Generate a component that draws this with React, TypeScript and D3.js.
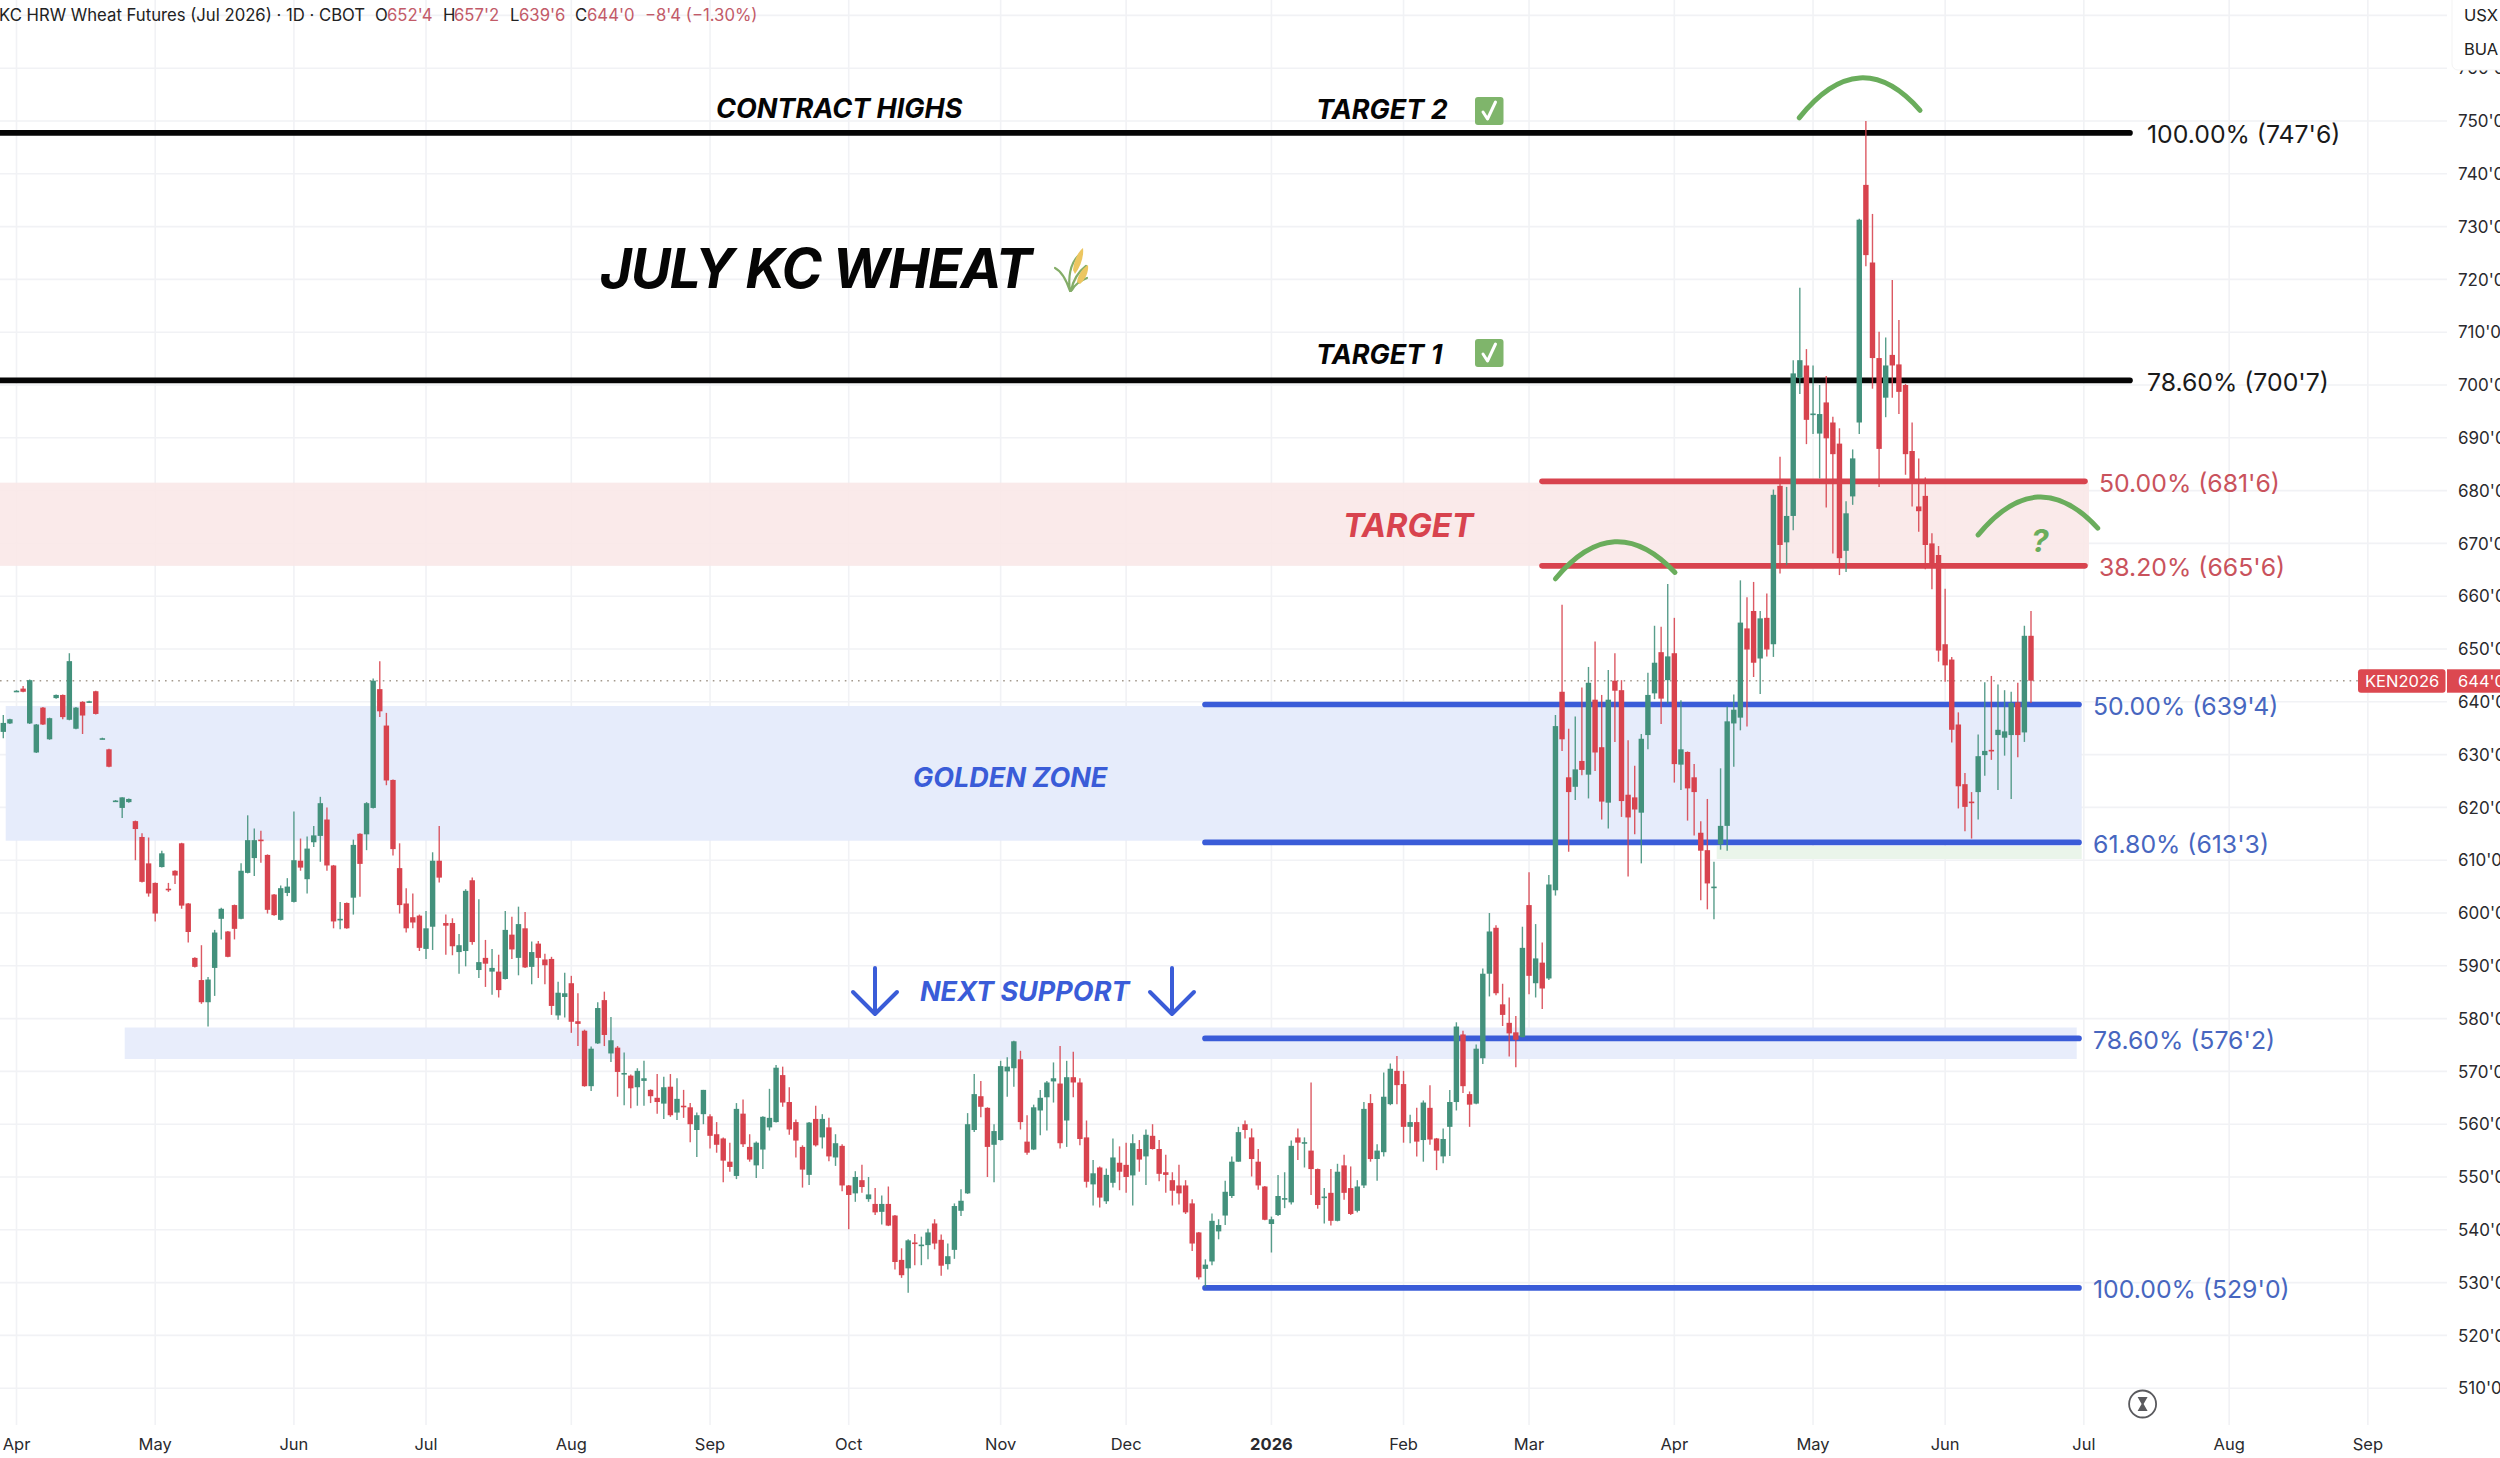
import * as React from 'react'
import * as d3 from 'd3'

type Bar = number[] // open, high, low, close

const lateMar25: Bar[] = [
  [634.3,637.5,633.1,636],[635.9,636.8,635.8,636.7],
]
const apr25: Bar[] = [
  [642,642.2,641.9,642.1],[642.5,643,641.8,641.9],[635.9,644.2,635.8,644.1],[630.4,635.8,630.3,635.7],
  [638.9,639,635.6,635.7],[632.9,637,632.8,636.9],[640.7,641.4,640.6,641.3],[641.3,641.4,636.7,637.1],
  [636.6,649.2,636.5,647.7],[634.9,639,634.8,638.9],[640,640.1,633.9,637.4],[639.9,640.2,639.8,640.1],
  [642,642.1,637.6,637.7],[633,633.2,632.9,633.1],[631,631.1,627.6,627.7],[621.2,621.4,621.1,621.3],
  [619.9,621.9,618,621.9],[621,621.7,620.9,621.6],[617.4,617.5,610,615.9],[614.4,615.1,605.8,605.9],
  [609.4,614.3,603.1,603.7],
]
const may25: Bar[] = [
  [605.7,605.8,598.4,599.9],[608.7,611.8,608.6,611.3],[604.6,605.7,604,604.4],[608,608.1,605.5,607.1],
  [613.2,613.3,600.8,601.4],[601.8,601.9,594.4,596.4],[591.5,591.6,589.7,589.8],[587.3,593.9,582.8,583.1],
  [583.1,587.9,578.5,587.4],[589.6,596.8,584.3,596.3],[598.9,601,595,600.8],[596.5,596.6,591.6,591.7],
  [601.5,601.6,595,597],[598.9,609.4,598.8,608],[607.6,618.5,607.5,613.8],[610.4,616,607,613.8],
  [613.9,615.6,609.5,613.7],[611,611.1,599.9,600.6],[603.5,603.6,599.5,599.6],[598.7,605.2,598.6,604.7],
  [603.8,606.6,603.2,605],
]
const jun25: Bar[] = [
  [602.1,619.2,602,610],[609.9,614.1,608,608.6],[606.4,614.5,603.7,612.2],[613.4,616.5,612.5,614.7],
  [614.6,622,609.7,620.8],[617.7,620,608,609],[609,609.1,597.1,598.4],[598.8,602.1,596.9,598.9],
  [601.9,602,597,597.1],[602.9,613.9,599.7,612.9],[615,615.1,603.1,609.3],[614.9,621,611.9,620.8],
  [619.9,644.4,619.8,644],[642.4,647.7,637.1,638.2],[635.5,637.9,624.2,625.1],[625.2,625.3,610.9,612.1],
  [608.5,613.2,599.9,601.5],[601.8,604.7,596.3,597.1],[599.2,603.7,597.1,598.2],[599.5,599.7,592.8,593.4],
]
const jul25: Bar[] = [
  [593.2,600.4,591.3,597.1],[597.4,611.5,593,609.9],[609.9,616.5,605.8,606.7],[598.1,599.7,592.1,597.6],
  [598.1,599,592,593.7],[592.6,596,588.5,593.9],[592.8,604.5,589.9,604.2],[606.2,606.7,594,594.5],
  [589.2,602.6,587.7,590.7],[591.5,594.9,586,590.4],[588.9,593.2,584.5,589.6],[588.9,592.1,584,585.4],
  [587.5,600.4,587.4,596.8],[595.9,599.3,591.3,593.1],[591.5,601.2,588.2,597.9],[597.1,600.2,589.6,589.7],
  [589.8,594.6,586.5,592.6],[594.2,594.7,587.7,591.5],[591.2,592.3,586.5,590.1],[591.3,591.7,580.7,582.4],
  [580.6,587,579.8,584.9],[584.1,588.7,580.2,584.8],
]
const aug25: Bar[] = [
  [586.7,588.1,577.3,579.4],[579.5,584.8,574.8,579],[577.7,577.9,567.1,567.2],[567.2,574.7,566.3,574.3],
  [575.3,583.1,575.2,582],[583.5,585.1,574.8,576.9],[573.4,580.3,571.8,575.9],[574.5,574.8,565.2,569.9],
  [569.5,573.6,563.6,569.7],[569.2,569.4,563,566.8],[567,570.6,563.5,570.1],[568.2,572,563.5,568.7],
  [566.5,566.6,564,565.3],[565,569.5,562,564.2],[563.9,569,561,567],[567.1,569.5,561.4,561.7],
  [562.2,568.7,560.8,564.8],[563.5,566.5,561.2,563.4],[563.2,564,556.6,560],[558.9,562.2,553.8,561.7],
  [561.9,566.5,560,566.5],
]
const sep25: Bar[] = [
  [561.5,561.9,555.4,557.8],[558.1,560.4,554.6,556.1],[557.3,557.5,549,553.1],[552.9,556.5,551,551.9],
  [550.2,564,549.6,562.9],[562,564.7,555.7,556.2],[555.7,558.1,552.9,553.3],[552.2,556.7,549.8,556.5],
  [555.2,561.5,551.5,561.4],[559.4,566.7,558.8,561.2],[560.4,571.2,560.3,570.7],[569.3,570.9,563.3,564.1],
  [564.2,567,558,559],[560.4,560.9,553.7,556.9],[555.7,556,548,551.4],[550.4,560.4,548.5,560.3],
  [561,563.5,555.8,556],[557.5,561.9,555.4,561],[559.4,561.2,553,553.9],[553.7,558.1,552.1,556.4],
  [555.9,556.2,547.3,548.4],
]
const oct25: Bar[] = [
  [548.4,548.5,540.1,546.6],[546.9,551.1,545.3,550],[549.4,552.3,547,548.1],[545.8,550,545.3,546.7],
  [544.9,547.9,542.8,543.3],[543.4,546.5,541,544.9],[544.9,548.2,540.7,540.8],[542.7,542.8,532.5,533.9],
  [534.3,536.5,530.9,531.4],[532.7,538.2,528.1,538],[537.6,539.2,533.3,537.4],[537.1,538.7,533.3,537.2],
  [537.1,540.2,534.4,539.5],[541.2,542,536.3,537.4],[538.1,539.1,531.3,533.2],[533.5,537.4,532.5,535],
  [536.2,545,534.5,544.5],[543.6,547.7,542.6,545.5],[546.9,562.1,546.8,560],[558.9,569.5,558.5,565.7],
  [565.3,568.2,561.3,563.3],[563.1,563.2,550,555.7],[556.1,560,549,558.7],
]
const nov25: Bar[] = [
  [557,572,556.9,571],[570,572.7,565.2,570.9],[570.6,575.8,567.1,575.7],[572.3,573.9,559,560.4],
  [556.7,561.7,554.2,554.6],[555.2,563.7,555.1,563.2],[562.6,566.5,557.9,565],[565.1,568.2,558.8,567.9],
  [568.1,571.7,564.1,568.7],[567.7,574.8,555.4,556.4],[560.7,572,555.7,568.9],[568.9,573.7,565.1,567.9],
  [567.9,568.7,556,557.2],[557.5,560.7,548,549.1],[548.6,553.2,544.6,550.7],[551.8,552,544.2,546.1],
  [545.4,551.6,544.9,550.4],[548.9,557.3,548,553.7],[552.7,555.8,547.5,551],
]
const dec25: Bar[] = [
  [552.3,556.5,547,550],[550.3,558.1,544.6,556.4],[555.3,557,551,553.3],[553.9,559,548.5,558],
  [557.8,560,555.2,555.3],[555.3,557,549.2,550.6],[550.9,554.2,547,550.4],[549.4,550.9,544.6,547.4],
  [548.4,552.3,544.8,546.9],[548.4,549.4,543,543.3],[545,545.8,536,537.4],[539.5,539.6,530.6,531],
  [532.6,534.4,529.2,533.4],[534,543.1,533.3,541.7],[539.7,542,538.2,540.9],[542.7,549.3,540.9,547.2],
  [546.4,553.9,546,552.9],[552.9,559.5,552.9,558.5],[560,560.7,557.3,558.9],[557.5,559.2,550.1,553.4],
  [552.9,555.3,547.6,548.4],[548.2,548.3,541.8,541.9],
]
const jan26: Bar[] = [
  [541.1,542.5,535.7,542],[542.8,550.4,542.6,546.4],[545.9,550.9,544.1,546],[545.2,556.9,544.8,555.9],
  [557.5,559.2,553.2,556.5],[556.5,557.5,551.8,556.6],[555,567.9,546.6,551.5],[551.5,551.6,544,544.7],
  [546.2,547.9,541.2,546.3],[547,551.5,540.8,541.7],[541.7,552.5,541.6,551],[552.2,554.2,545.7,547],
  [547.9,552,542.8,543],[543.6,549.4,543.3,548.2],[548.4,564.2,547.9,562.9],[564,565.7,552.9,553.4],
  [553.4,556.2,549.3,555],[554.7,569.8,553.9,565.2],[563.8,571.5,563.6,570.5],[570.1,572.9,563.8,567.4],
]
const feb26: Bar[] = [
  [567.6,570.1,556.5,559.5],[559.5,561.8,556.4,560.4],[560.4,563.1,553.9,556.7],[557,564.5,552.9,564.1],
  [563.1,567.4,556.1,557.1],[557.3,557.4,551.3,555],[553.9,559.2,552.6,557.2],[559.5,566.5,554,564.2],
  [564.2,579.3,562.6,578.5],[577,577.7,565.9,567.2],[565.7,566.2,559.5,563.7],[563.9,575.1,563.8,574.3],
  [572.5,589.5,571.4,588.5],[588.5,600,584.2,596.5],[597.2,597.7,584.4,584.8],[582.7,586.6,578.6,580.7],
  [579.2,584,572.8,577.2],[577.4,580.5,570.8,576],[576.5,597.4,576.4,593.4],
]
const mar26: Bar[] = [
  [601.5,607.7,584.6,588.1],[586.7,597.9,584,591.4],[590.6,594.4,581.8,585.7],[587.6,607.2,587.3,605.4],
  [604.3,637.5,603.3,635.4],[641.9,658.4,630.7,632.9],[625.7,634.9,611.6,622.9],[623.9,637.2,621.4,627.2],
  [628.8,642.7,626.1,627.1],[626.2,646.6,621.7,643.6],[640.4,651.4,626.9,630.4],[631.4,641.3,617.7,621.1],
  [620.9,646,616,640.4],[644,649.2,632.4,642.1],[642.2,644.1,618.2,621.2],[622.4,632.7,606.9,618.1],
  [621.9,627.9,614.9,619.6],[619,633.9,609.4,633],[633.7,645.5,631,641.3],[641.6,654.4,640.5,647.4],
  [649.4,654.2,635.8,640.6],[644.1,662.3,639.7,648.6],
]
const apr26: Bar[] = [
  [649.2,655.9,624.7,628.2],[628.1,640.3,623.3,631],[630.5,630.6,617.5,623.6],[625.7,628.2,614.7,622.9],
  [615.2,617.4,602.4,611.8],[611.9,621.6,600.7,605.6],[604.9,609.7,598.8,605],[613,627.4,612,616.5],
  [616.5,639.1,611.8,636.3],[635.9,641.4,627.7,638.5],[637,663,634.6,655],[653.9,659.8,635.3,649.9],
  [657.2,662.7,644.7,647.4],[648.2,657.2,641.5,655.8],[655.9,660.5,648.6,649.9],[650.9,680.2,648.5,679.2],
  [680.9,686.4,664.3,669.7],[670.2,680.7,665.9,675.2],[675.2,704.7,672.5,702.2],[701.3,718.4,698.3,704.7],
  [703.7,706.8,688.8,693.4],
]
const may26: Bar[] = [
  [694.4,703.7,690.7,694.6],[690.8,700,682.3,694.5],[696.7,701.7,676.8,689.9],[692.9,694,668.1,686.9],
  [688.9,691.8,664,667.2],[668.6,678,664.6,675.7],[678.9,687.8,677.3,686.1],[692.9,731.5,690.7,731.3],
  [737.9,750,722.5,724.6],[723.2,732.4,699.3,705.1],[705.1,710.1,680.7,687.9],[697.6,709,693.9,703.7],
  [705.7,719.9,697.6,703.7],[703.9,712.3,694.5,698.7],[700,700.2,683,686.9],[687.5,692.9,677,682],
  [677,686.1,672.2,676.1],[679,682.5,665.1,669.7],[670,671.9,661.3,665.9],[667.8,669.5,647.6,649.7],
]
const jun26: Bar[] = [
  [650.9,661.4,643.8,646.9],[648,648.5,632.3,634.7],[635.7,638,619.8,624],[624.4,626.5,615.5,620.1],
  [621.1,622.9,614.1,621],[622.9,633.8,617.7,629.7],[629.9,643.7,626,630.7],[630.9,644.9,629,630.8],
  [633.7,643.3,623.3,634.7],[633.2,642.2,629.8,634.4],[633.7,641.9,621.6,639.8],[639.9,643.6,629.5,633.7],
  [634.2,654.4,632.4,652.5],[652.5,657.2,639.75,644],
]

const bars: Bar[] = [
  ...lateMar25, ...apr25, ...may25, ...jun25, ...jul25, ...aug25, ...sep25, ...oct25,
  ...nov25, ...dec25, ...jan26, ...feb26, ...mar26, ...apr26, ...may26, ...jun26,
]

// axis ticks: bar index of the first session of each month (future ones run on past the last bar)
const monthLabels = ['Apr','May','Jun','Jul','Aug','Sep','Oct','Nov','Dec','2026','Feb','Mar','Apr','May','Jun','Jul','Aug','Sep']
const monthBars = [2,23,44,64,86,107,128,151,170,192,212,231,253,274,294,315,337,358]
const priceTicks = d3.range(510, 771, 10)

const lastClose = 644
const RED = '#d8434e'
const GREEN = '#43917c'
const BLUE = '#3a5cd8'
const BLACK = '#050505'
const ARC = '#6aad5c'
const FONT = 'Inter, "Noto Sans", sans-serif'

// fib levels: price, label
const fibBlack = [{ p: 747.75, label: "100.00% (747'6)" }, { p: 700.875, label: "78.60% (700'7)" }]
const fibRed = [{ p: 681.75, label: "50.00% (681'6)" }, { p: 665.75, label: "38.20% (665'6)" }]
const fibBlue = [
  { p: 639.5, label: "50.00% (639'4)" },
  { p: 613.375, label: "61.80% (613'3)" },
  { p: 576.25, label: "78.60% (576'2)" },
  { p: 529, label: "100.00% (529'0)" },
]

// hand drawn arcs as [bar, price]: start, control, end
const arcs = [
  [[235, 663.3], [243.9, 676.7], [253.1, 664.5]],
  [[271.9, 750.6], [281.1, 765], [290.2, 752]],
  [[299, 671.6], [308, 685.3], [317.1, 672.9]],
]

const x = d3.scaleLinear().domain([0, 307]).range([3.3, 2031])
const y = d3.scaleLinear().domain([750, 510]).range([121, 1388.2])

function Check({ top }: { top: number }) {
  return (
    <g transform={`translate(1475,${top})`}>
      <rect width={28.5} height={28} rx={3} fill="#7fb56b" />
      <path d="M8 15 L12.5 22 L20.5 5" fill="none" stroke="#fff" strokeWidth={3} strokeLinecap="round" strokeLinejoin="round" />
    </g>
  )
}

function WheatIcon() {
  return (
    <g transform="translate(1054,248)" fill="none" strokeLinecap="round">
      <path d="M16 43 C14 30 16 16 24 8 M16 43 C13 34 9 24 1 20 M17 43 C19 32 24 24 32 18 M18 42 C21 36 28 32 33 30" stroke="#84ad68" strokeWidth={2.2} />
      <path d="M19 22 C20 12 24 4 29 0 C30 8 27 18 21 26 Z" fill="#ecc660" stroke="none" />
      <path d="M23 34 C24 26 29 20 34 17 C35 24 31 32 26 36 Z" fill="#ecc660" stroke="none" />
    </g>
  )
}

export default function App() {
  const bodyW = 5.4
  const priceY = y(lastClose)
  const labelDy = 1.5 + 25 * 0.36

  return (
    <svg width={2500} height={1458} viewBox="0 0 2500 1458" style={{ position: 'absolute', left: 0, top: 0, background: '#fff' }} fontFamily={FONT}>
      {/* grid */}
      <g stroke="#f1f2f5" strokeWidth={1.6}>
        {priceTicks.map(t => <line key={t} x1={0} x2={2447} y1={y(t)} y2={y(t)} />)}
        {monthBars.map(b => <line key={b} x1={x(b)} x2={x(b)} y1={0} y2={1425} />)}
      </g>

      {/* zones */}
      <rect x={0} y={y(681.5)} width={2089} height={y(665.75) - y(681.5)} fill="#fae8e8" opacity={0.9} />
      <rect x={5.7} y={706} width={2076} height={134.7} fill="#e5ebfb" opacity={0.95} />
      <rect x={124.7} y={1027.5} width={1952} height={31.5} fill="#e7ecfb" opacity={0.95} />
      <rect x={1716.7} y={846} width={365} height={13} fill="#eaf5ea" />

      {/* last price line */}
      <line x1={0} x2={2358} y1={priceY} y2={priceY} stroke="#a49a8e" strokeWidth={1.5} strokeDasharray="1.6 5" />

      {/* fib lines */}
      {fibBlack.map(f => (
        <g key={f.p}>
          <line x1={-5} x2={2130} y1={y(f.p)} y2={y(f.p)} stroke={BLACK} strokeWidth={5.6} strokeLinecap="round" />
          <text x={2147} y={y(f.p) + labelDy} fontSize={24.8} fill="#1a1a1a">{f.label}</text>
        </g>
      ))}
      {fibRed.map(f => (
        <g key={f.p}>
          <line x1={1542} x2={2085} y1={y(f.p)} y2={y(f.p)} stroke={RED} strokeWidth={5.6} strokeLinecap="round" />
          <text x={2099} y={y(f.p) + labelDy} fontSize={24.8} fill="#c9525c">{f.label}</text>
        </g>
      ))}
      {fibBlue.map(f => (
        <g key={f.p}>
          <line x1={1205} x2={2079} y1={y(f.p)} y2={y(f.p)} stroke={BLUE} strokeWidth={5.6} strokeLinecap="round" />
          <text x={2093} y={y(f.p) + labelDy} fontSize={24.8} fill="#4766bf">{f.label}</text>
        </g>
      ))}

      {/* candles */}
      <g>
        {bars.map((b, i) => {
          const [o, h, l, c] = b
          const col = c < o ? RED : GREEN
          const top = y(Math.max(o, c))
          const bh = Math.max(y(Math.min(o, c)) - top, 1.6)
          return (
            <g key={i}>
              <line x1={x(i)} x2={x(i)} y1={y(h)} y2={y(l)} stroke={col} strokeWidth={1.4} opacity={0.88} />
              <rect x={x(i) - bodyW / 2} y={top} width={bodyW} height={bh} fill={col} />
            </g>
          )
        })}
      </g>

      {/* arcs */}
      {arcs.map((a, i) => {
        const path = d3.path()
        path.moveTo(x(a[0][0]), y(a[0][1]))
        path.quadraticCurveTo(x(a[1][0]), y(a[1][1]), x(a[2][0]), y(a[2][1]))
        return <path key={i} d={path.toString()} fill="none" stroke={ARC} strokeWidth={5} strokeLinecap="round" />
      })}
      <text x={2040} y={541} dy="0.36em" textAnchor="middle" fontSize={31} fontWeight={700} fontStyle="italic" fill={ARC}>?</text>

      {/* arrows */}
      {[875, 1172].map(ax => (
        <path key={ax} d={`M${ax} 968 V1014 M${ax - 22} 992 L${ax} 1014 L${ax + 22} 992`} fill="none" stroke={BLUE} strokeWidth={4} strokeLinecap="round" strokeLinejoin="round" />
      ))}

      {/* annotations */}
      <g fontStyle="italic" fontWeight={700}>
        <text x={600} y={268} dy="0.36em" fontSize={55} letterSpacing={-1.3} fill="#050505">JULY KC WHEAT</text>
        <text x={716} y={108} dy="0.36em" fontSize={27} fill="#050505">CONTRACT HIGHS</text>
        <text x={1316} y={109} dy="0.36em" fontSize={27} fill="#050505">TARGET 2</text>
        <text x={1316} y={354} dy="0.36em" fontSize={27} fill="#050505">TARGET 1</text>
        <text x={1343} y={525} dy="0.36em" fontSize={32.5} fill={RED}>TARGET</text>
        <text x={913} y={777} dy="0.36em" fontSize={27} fill={BLUE}>GOLDEN ZONE</text>
        <text x={920} y={991} dy="0.36em" fontSize={27} fill={BLUE}>NEXT SUPPORT</text>
      </g>
      <Check top={97} />
      <Check top={339} />
      <WheatIcon />

      {/* header */}
      <g fontSize={16.7} fill="#222">
        <text x={-1} y={15} dy="0.36em">KC HRW Wheat Futures (Jul 2026) · 1D · CBOT</text>
        <text x={375} y={15} dy="0.36em">O</text>
        <text x={443} y={15} dy="0.36em">H</text>
        <text x={510} y={15} dy="0.36em">L</text>
        <text x={575} y={15} dy="0.36em">C</text>
        <g fill="#c25a68">
          <text x={387} y={15} dy="0.36em">652'4</text>
          <text x={454} y={15} dy="0.36em">657'2</text>
          <text x={519} y={15} dy="0.36em">639'6</text>
          <text x={587} y={15} dy="0.36em">644'0</text>
          <text x={645} y={15} dy="0.36em">−8'4 (−1.30%)</text>
        </g>
      </g>

      {/* price axis */}
      <g fontSize={17} fill="#2a2a2e">
        {priceTicks.map(t => (
          <text key={t} x={2458} y={y(t)} dy="0.36em">{`${t}'0`}</text>
        ))}
      </g>
      <rect x={2452} y={-6} width={60} height={76} rx={6} fill="#fff" stroke="#f3f3f3" />
      <g fontSize={16.5} fill="#222">
        <text x={2464} y={15} dy="0.36em">USX</text>
        <text x={2464} y={49} dy="0.36em">BUA</text>
      </g>

      {/* last price tag */}
      <rect x={2358} y={669.3} width={87.5} height={23.4} rx={3} fill="#dc4850" />
      <rect x={2447} y={669.3} width={60} height={23.4} fill="#dc4850" />
      <g fontSize={16.5} fill="#fff">
        <text x={2365} y={681} dy="0.36em">KEN2026</text>
        <text x={2458} y={681} dy="0.36em">644'0</text>
      </g>

      {/* time axis */}
      <g fontSize={16.5} fill="#2a2a2e" textAnchor="middle">
        {monthLabels.map((m, i) => (
          <text key={i} x={x(monthBars[i])} y={1444} dy="0.36em" fontWeight={m === '2026' ? 700 : 400}>{m}</text>
        ))}
      </g>

      {/* tv logo button */}
      <g transform="translate(2142.6,1404)">
        <circle r={13.5} fill="#fff" stroke="#5a5a5e" strokeWidth={1.8} />
        <path d="M-5 -7 H5 L1 0 L5 7 H-5 L-1 0 Z" fill="#5a5a5e" />
      </g>
    </svg>
  )
}
